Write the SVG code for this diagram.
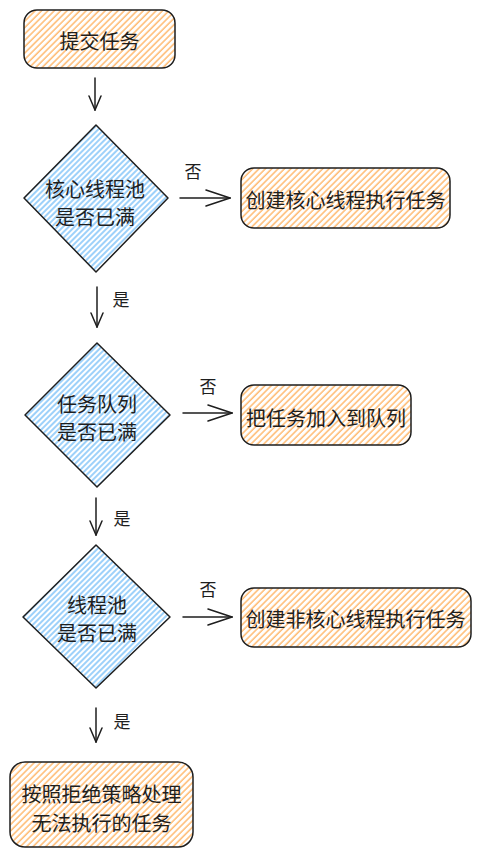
<svg xmlns="http://www.w3.org/2000/svg" width="480" height="858" viewBox="0 0 480 858">
<style>
.t{font-family:"Noto Sans CJK SC","Noto Sans",sans-serif;font-size:20px;fill:#1e1e1e;text-anchor:middle;dominant-baseline:central}
.box{fill:url(#hOrange);stroke:#1e1e1e;stroke-width:1.5}
.dia{fill:url(#hBlue);stroke:#1e1e1e;stroke-width:1.5;stroke-linejoin:round}
.c{fill:none;stroke:#1e1e1e;stroke-width:1.5;stroke-linecap:round}
.lbl{font-family:"Noto Sans CJK SC","Noto Sans",sans-serif;font-size:17px;fill:#1e1e1e;text-anchor:middle;dominant-baseline:central}
</style>
<defs>
<pattern id="hOrange" patternUnits="userSpaceOnUse" width="4.5" height="4.5" patternTransform="rotate(45)">
<rect width="4.5" height="4.5" fill="#fff"/>
<line x1="1" y1="0" x2="1" y2="4.5" stroke="#ffa94d" stroke-width="1.2"/>
</pattern>
<pattern id="hBlue" patternUnits="userSpaceOnUse" width="4" height="4" patternTransform="rotate(45)">
<rect width="4" height="4" fill="#fff"/>
<line x1="1" y1="0" x2="1" y2="4" stroke="#4dabf7" stroke-width="1.1"/>
</pattern>
<marker id="hs" viewBox="0 0 16 14" refX="15" refY="7" markerWidth="16" markerHeight="14" markerUnits="userSpaceOnUse" orient="auto">
<path d="M1,1 L15,7 L1,13" fill="none" stroke="#1e1e1e" stroke-width="1.5" stroke-linecap="round"/>
</marker>
<marker id="hl" viewBox="0 0 26 20" refX="25" refY="10" markerWidth="26" markerHeight="20" markerUnits="userSpaceOnUse" orient="auto">
<path d="M1,2 L25,10 L1,18" fill="none" stroke="#1e1e1e" stroke-width="1.5" stroke-linecap="round"/>
</marker>
</defs>

<g id="start">
<rect class="box" x="24" y="10" width="151" height="58" rx="13"/>
<text class="t" x="99.5" y="40">提交任务</text>
</g>

<g id="d1">
<polygon class="dia" points="96,125 168,198 96,272 24,198"/>
<text class="t" x="95" y="188">核心线程池</text>
<text class="t" x="95" y="216">是否已满</text>
</g>

<g id="b1">
<rect class="box" x="241" y="168" width="209" height="60" rx="13"/>
<text class="t" x="345.5" y="199">创建核心线程执行任务</text>
</g>

<g id="d2">
<polygon class="dia" points="97,343 170,415 97,487 25,415"/>
<text class="t" x="97" y="403">任务队列</text>
<text class="t" x="97" y="431">是否已满</text>
</g>

<g id="b2">
<rect class="box" x="241" y="385" width="170" height="60" rx="13"/>
<text class="t" x="326" y="417">把任务加入到队列</text>
</g>

<g id="d3">
<polygon class="dia" points="96,545 170,617 96,688 23,617"/>
<text class="t" x="97" y="604">线程池</text>
<text class="t" x="97" y="632">是否已满</text>
</g>

<g id="b3">
<rect class="box" x="241" y="588" width="230" height="59" rx="13"/>
<text class="t" x="355.5" y="618">创建非核心线程执行任务</text>
</g>

<g id="end">
<rect class="box" x="10" y="762" width="183" height="85" rx="15"/>
<text class="t" x="101.5" y="793">按照拒绝策略处理</text>
<text class="t" x="101.5" y="822">无法执行的任务</text>
</g>

<g id="connectors">
<path class="c" d="M95,78 L95,110" marker-end="url(#hs)"/>
<path class="c" d="M180,198 L230,198" marker-end="url(#hl)"/>
<path class="c" d="M97,287 L97,327" marker-end="url(#hs)"/>
<path class="c" d="M183,413 L232,413" marker-end="url(#hl)"/>
<path class="c" d="M96,498 L96,535" marker-end="url(#hs)"/>
<path class="c" d="M183,617 L232,617" marker-end="url(#hl)"/>
<path class="c" d="M96,708 L96,742" marker-end="url(#hs)"/>
<text class="lbl" x="193" y="170">否</text>
<text class="lbl" x="121" y="298">是</text>
<text class="lbl" x="208" y="385">否</text>
<text class="lbl" x="122" y="517">是</text>
<text class="lbl" x="208" y="588">否</text>
<text class="lbl" x="122" y="720">是</text>
</g>
</svg>
